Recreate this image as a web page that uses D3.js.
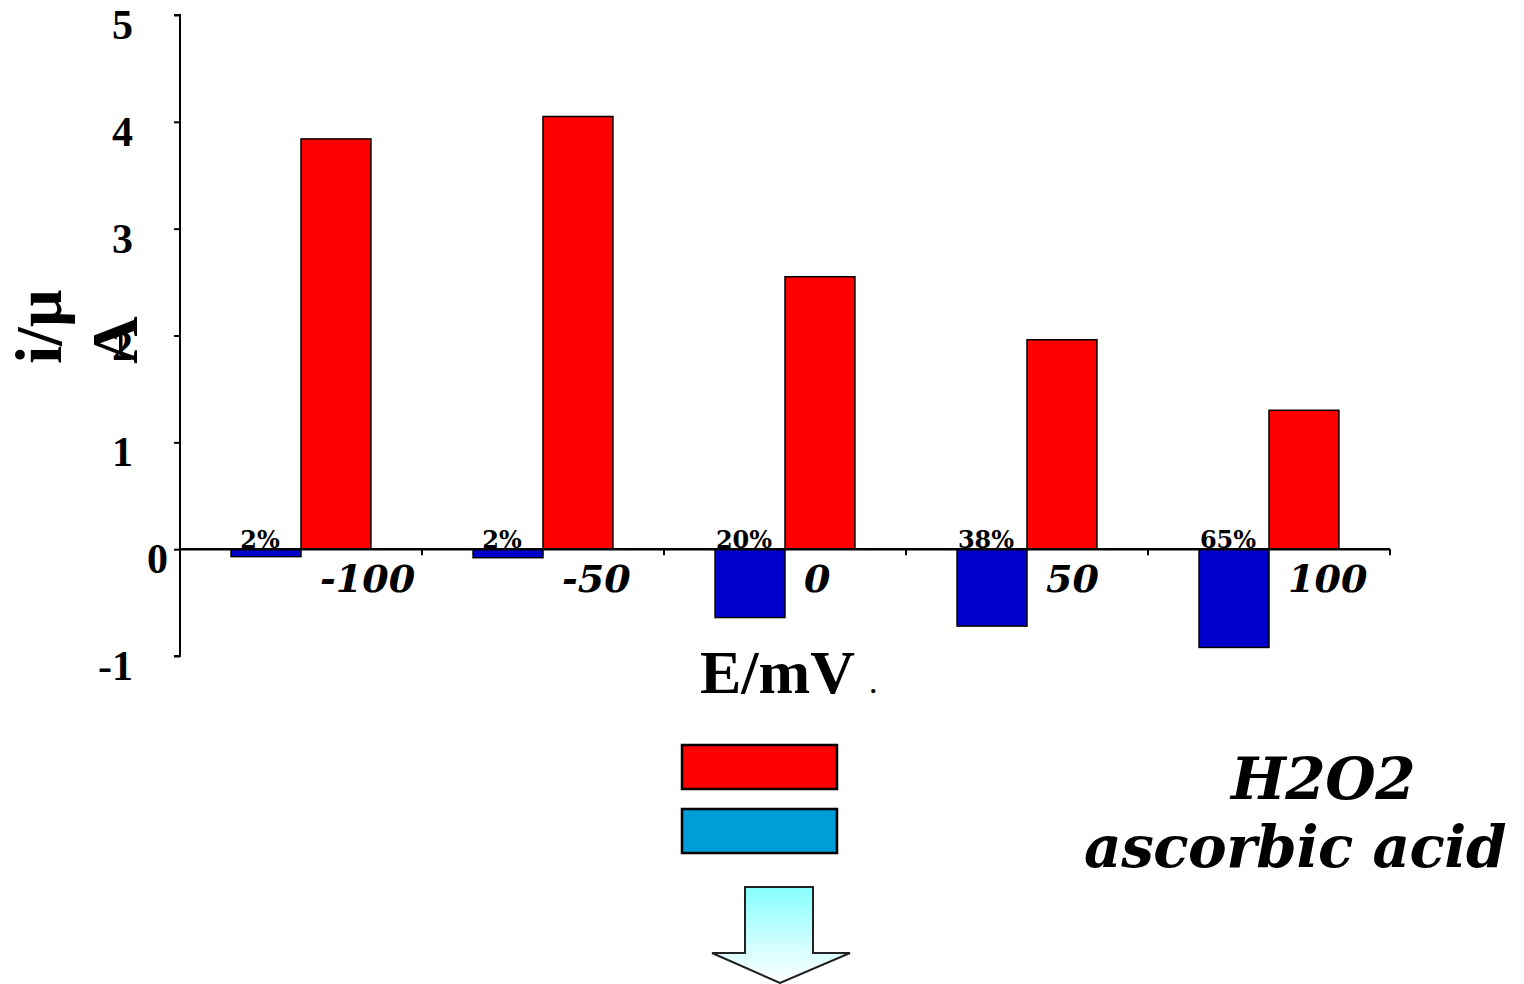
<!DOCTYPE html>
<html>
<head>
<meta charset="utf-8">
<script src="https://cdn.jsdelivr.net/npm/d3@7/dist/d3.min.js"></script>
<style>
  html, body { margin: 0; padding: 0; background: #fff; }
  svg { display: block; }
</style>
</head>
<body>
<script>
// ---- data ----
const categories = ["-100", "-50", "0", "50", "100"];
const h2o2Values = [3.84, 4.05, 2.55, 1.96, 1.30];
const ascorbicValues = [-0.07, -0.08, -0.64, -0.72, -0.92];
const percentLabels = ["2%", "2%", "20%", "38%", "65%"];
const yTickValues = [-1, 0, 1, 2, 3, 4, 5];
const yTickLabels = ["-1", "0", "1", "2", "3", "4", "5"];
const seriesNames = ["H2O2", "ascorbic acid"];
const seriesColors = ["#ff0000", "#0000cc"];
const legendColors = ["#ff0000", "#009dd9"];

const W = 1524, H = 984;
const svg = d3.select("body").append("svg").attr("width", W).attr("height", H);
svg.append("rect").attr("width", W).attr("height", H).attr("fill", "#fff");

const x = d3.scaleBand().domain(categories).range([180, 1390]).paddingInner(0).paddingOuter(0);
const xSub = d3.scaleBand().domain([1, 0]).range([0, x.bandwidth()]).paddingInner(0).paddingOuter(0.73);
const y = d3.scaleLinear().domain([-1, 5]).range([656, 15]);

const rows = categories.map((c, i) => ({ c, i, h: h2o2Values[i], a: ascorbicValues[i], p: percentLabels[i] }));

// bars
const g = svg.append("g");
g.selectAll("rect.asc").data(rows).join("rect")
  .attr("class", "asc")
  .attr("x", d => x(d.c) + xSub(1))
  .attr("width", xSub.bandwidth())
  .attr("y", d => y(Math.max(0, d.a)))
  .attr("height", d => Math.abs(y(d.a) - y(0)))
  .attr("fill", seriesColors[1]).attr("stroke", "#000").attr("stroke-width", 1.5);
g.selectAll("rect.h").data(rows).join("rect")
  .attr("class", "h")
  .attr("x", d => x(d.c) + xSub(0))
  .attr("width", xSub.bandwidth())
  .attr("y", d => y(d.h))
  .attr("height", d => y(0) - y(d.h))
  .attr("fill", seriesColors[0]).attr("stroke", "#000").attr("stroke-width", 1.5);

// percent labels
g.selectAll("text.pct").data(rows).join("text")
  .attr("class", "pct")
  .attr("x", d => x(d.c) + xSub(1) + xSub.bandwidth() / 2 - 6)
  .attr("y", y(0) - 1)
  .attr("text-anchor", "middle")
  .attr("font-family", "DejaVu Serif")
  .attr("font-weight", "bold")
  .attr("font-size", 24)
  .text(d => d.p);

// y axis
const yAxis = svg.append("g").attr("transform", "translate(180,0)")
  .call(d3.axisLeft(y).tickValues(yTickValues).tickSize(6).tickPadding(41)
    .tickFormat(d => yTickLabels[yTickValues.indexOf(d)]));
yAxis.select(".domain").attr("stroke", "#000").attr("stroke-width", 2).attr("d", `M-6,${y(5)}H0V${y(-1)}H-6`);
yAxis.selectAll(".tick line").attr("stroke", "#000").attr("stroke-width", 2);
yAxis.selectAll(".tick text")
  .attr("font-family", "Liberation Serif")
  .attr("font-weight", "bold")
  .attr("font-size", 42)
  .attr("fill", "#000")
  .attr("dy", "0.56em")
  .attr("x", d => d === 0 ? -12 : -47);

// x axis line with boundary ticks
const xAxis = svg.append("g").attr("transform", `translate(0,${y(0)})`)
  .call(d3.axisBottom(x).tickSize(0).tickFormat(""));
xAxis.select(".domain").attr("stroke", "#000").attr("stroke-width", 2.5).attr("d", `M180,0H1390`);
xAxis.selectAll(".tick").remove();
xAxis.selectAll("line.bt").data(categories).join("line")
  .attr("class", "bt")
  .attr("x1", d => x(d) + x.bandwidth()).attr("x2", d => x(d) + x.bandwidth())
  .attr("y1", 0).attr("y2", 6)
  .attr("stroke", "#000").attr("stroke-width", 2);

// x category labels
svg.selectAll("text.xl").data(categories).join("text")
  .attr("class", "xl")
  .attr("x", d => x(d) + x.bandwidth() / 2 + 19)
  .attr("y", 592)
  .attr("font-family", "DejaVu Serif")
  .attr("font-weight", "bold")
  .attr("font-style", "italic")
  .attr("font-size", 38)
  .text(d => d);

// axis titles
svg.append("text")
  .attr("x", 700).attr("y", 693)
  .attr("font-family", "Liberation Serif").attr("font-weight", "bold").attr("font-size", 62)
  .text("E/mV");
svg.append("text")
  .attr("x", 870).attr("y", 693)
  .attr("font-family", "Liberation Serif").attr("font-weight", "bold").attr("font-size", 26)
  .text(".");

const yt = svg.append("text")
  .attr("transform", "translate(0,364) rotate(-90)")
  .attr("font-family", "Liberation Serif").attr("font-weight", "bold").attr("font-size", 66);
yt.append("tspan").attr("x", 0).attr("y", 61).text("i/µ");
yt.append("tspan").attr("x", 0).attr("y", 137).text("A");

// legend
const legY = [745, 809];
svg.selectAll("rect.leg").data(seriesNames).join("rect")
  .attr("class", "leg")
  .attr("x", 682).attr("y", (d, i) => legY[i])
  .attr("width", 155).attr("height", 44)
  .attr("fill", (d, i) => legendColors[i])
  .attr("stroke", "#000").attr("stroke-width", 2.5);

const legTextPos = [[1323, 799], [1295, 867]];
svg.selectAll("text.legt").data(seriesNames).join("text")
  .attr("class", "legt")
  .attr("x", (d, i) => legTextPos[i][0]).attr("y", (d, i) => legTextPos[i][1])
  .attr("text-anchor", "middle")
  .attr("font-family", "DejaVu Serif").attr("font-weight", "bold").attr("font-style", "italic")
  .attr("font-size", 58)
  .attr("letter-spacing", -0.5)
  .text(d => d);

// arrow
const defs = svg.append("defs");
const grad = defs.append("linearGradient").attr("id", "ag").attr("x1", 0).attr("y1", 0).attr("x2", 0).attr("y2", 1);
grad.append("stop").attr("offset", "0%").attr("stop-color", "#88ffff");
grad.append("stop").attr("offset", "100%").attr("stop-color", "#ffffff");
const arrowPts = [[745, 887], [813, 887], [813, 953], [850, 953], [780, 983], [712, 953], [745, 953]];
svg.append("path")
  .attr("d", d3.line()(arrowPts) + "Z")
  .attr("fill", "url(#ag)")
  .attr("stroke", "#222").attr("stroke-width", 2);
</script>
</body>
</html>
